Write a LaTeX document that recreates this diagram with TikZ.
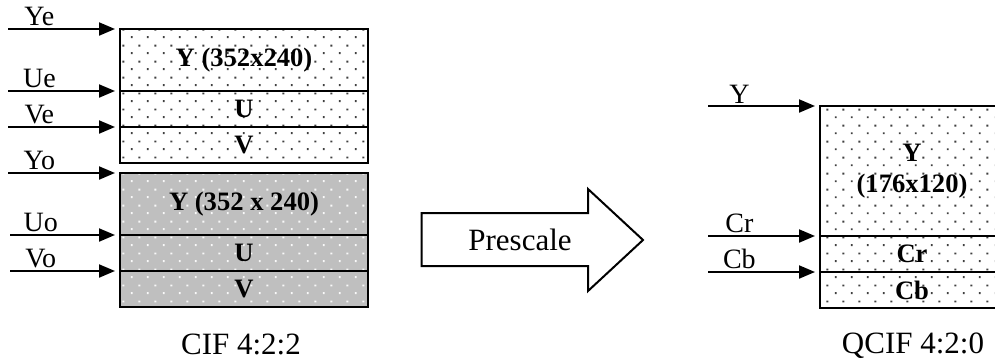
\documentclass[tikz,border=0pt]{standalone}
\usepackage{fontspec}
\setmainfont{Liberation Serif}
\usetikzlibrary{arrows.meta,positioning,patterns.meta}

% staggered dot screen used on every plane
\tikzdeclarepattern{
  name=speckle,
  type=uncolored,
  bounding box={(0pt,0pt) and (8pt,8pt)},
  tile size={(8pt,8pt)},
  code={
    \fill (1.5pt,1.5pt) rectangle (2.5pt,2.5pt);
    \fill (5.5pt,5.5pt) rectangle (6.5pt,6.5pt);
  }
}

\tikzset{
  band/.style={draw, line width=0.8pt, inner sep=0pt, outer sep=0pt,
    minimum width=124pt, align=center, anchor=north west,
    font=\fontsize{13.3}{15.5}\selectfont\bfseries},
  even/.style={band, preaction={fill=white}, pattern=speckle, pattern color=black!75},
  odd/.style={band, preaction={fill=gray!50}, pattern=speckle, pattern color=white!95!gray},
  feed/.style={line width=1pt, -{Triangle[length=8pt,width=6.5pt]}, shorten >=2.5pt},
  tag/.style={above, inner sep=1pt, pos=0.28, font=\fontsize{14}{16}\selectfont},
  caption/.style={anchor=base, font=\fontsize{15.5}{18}\selectfont},
}

\begin{document}
\begin{tikzpicture}[x=1pt,y=-1pt]
  \useasboundingbox (0,0) rectangle (497.5,180);
  % CIF frame, even field
  \node[even, minimum height=31pt] (ye) at (60,14.5) {Y (352x240)};
  \node[even, minimum height=18pt, below=0pt of ye] (ue) {U};
  \node[even, minimum height=18pt, below=0pt of ue] (ve) {V};
  % CIF frame, odd field
  \node[odd, minimum height=31pt] (yo) at (60,86.5) {Y (352 x 240)};
  \node[odd, minimum height=18pt, below=0pt of yo] (uo) {U};
  \node[odd, minimum height=18pt, below=0pt of uo] (vo) {V};
  \node[caption] (cif) at (120.5,177) {CIF 4:2:2};
  % QCIF frame
  \node[even, minimum width=92pt, minimum height=65pt] (yq) at (410,53) {Y\\(176x120)};
  \node[even, minimum width=92pt, minimum height=18pt, below=0pt of yq] (crq) {Cr};
  \node[even, minimum width=92pt, minimum height=18pt, below=0pt of crq] (cbq) {Cb};
  \node[caption] (qcif) at (456.5,176.5) {QCIF 4:2:0};
  % plane inputs
  \foreach \band/\lab/\off in {ye/Ye/56, ue/Ue/56, ve/Ve/56, yo/Yo/56, uo/Uo/55,
      vo/Vo/55, yq/Y/56, crq/Cr/56, cbq/Cb/56} {
    \coordinate (\band-in) at ([xshift=-\off pt]\band.north west);
    \draw[feed] (\band-in) -- node[tag] {\lab} (\band.north west);
  }
  % block arrow between the two formats
  \draw[line width=1pt, fill=white] (210.8,106.5) -- (294,106.5) -- (294,94.5)
    -- (321.5,120) -- (294,145.5) -- (294,133) -- (210.8,133) -- cycle;
  \node[font=\fontsize{15.5}{18}\selectfont] (prescale) at (260,119.75) {Prescale};
\end{tikzpicture}
\end{document}
